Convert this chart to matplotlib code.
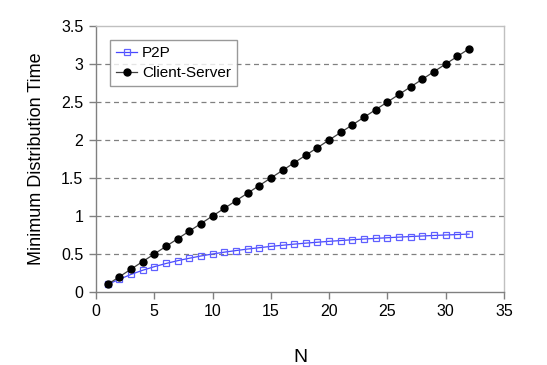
import matplotlib
matplotlib.use("Agg")
import matplotlib.pyplot as plt

plt.rcParams['font.family'] = ['Liberation Sans', 'DejaVu Sans']

N = list(range(1, 33))
p2p = [0.100, 0.167, 0.231, 0.286, 0.333, 0.375, 0.412, 0.444, 0.474, 0.500,
       0.524, 0.545, 0.565, 0.583, 0.600, 0.615, 0.630, 0.643, 0.655, 0.667,
       0.677, 0.688, 0.697, 0.706, 0.714, 0.722, 0.730, 0.737, 0.744, 0.750,
       0.756, 0.762]
client_server = [0.1, 0.2, 0.3, 0.4, 0.5, 0.6, 0.7, 0.8, 0.9, 1.0,
                 1.1, 1.2, 1.3, 1.4, 1.5, 1.6, 1.7, 1.8, 1.9, 2.0,
                 2.1, 2.2, 2.3, 2.4, 2.5, 2.6, 2.7, 2.8, 2.9, 3.0,
                 3.1, 3.2]
xticks = [0, 5, 10, 15, 20, 25, 30, 35]
yticks = [0, 0.5, 1, 1.5, 2, 2.5, 3, 3.5]
ytick_labels = ['0', '0.5', '1', '1.5', '2', '2.5', '3', '3.5']

fig = plt.figure(figsize=(5.47, 3.65), dpi=100)
ax = fig.add_axes([0.1755, 0.2, 0.7459, 0.7288])

for y in yticks[1:-1]:
    ax.axhline(y, color='#808080', lw=0.9, ls=(0, (4, 3)), zorder=0)

ax.plot(N, p2p, color='#4848ff', lw=0.9, marker='s', markersize=4.5,
        markerfacecolor='none', markeredgecolor='#6060ff', markeredgewidth=0.9,
        label='P2P')
ax.plot(N, client_server, color='#404040', lw=0.9, marker='o', markersize=5,
        markerfacecolor='black', markeredgecolor='black', label='Client-Server')

ax.set_xlim(0, 35)
ax.set_ylim(0, 3.5)
ax.set_xticks(xticks)
ax.set_yticks(yticks)
ax.set_yticklabels(ytick_labels)
ax.tick_params(direction='out', length=5, width=1, color='#808080', labelsize=11.5, pad=4)

for s in ['left', 'bottom']:
    ax.spines[s].set_color('#808080')
    ax.spines[s].set_linewidth(1.0)
for s in ['top', 'right']:
    ax.spines[s].set_color('#c0c0c0')
    ax.spines[s].set_linewidth(1.0)

ax.set_xlabel('N', fontsize=14)
ax.xaxis.set_label_coords(0.5, -65 / 266, transform=ax.transAxes)
ax.xaxis.label.set_va('center')
ax.set_ylabel('Minimum Distribution Time', fontsize=13)
ax.yaxis.set_label_coords(-(96 - 37) / 408, 0.5, transform=ax.transAxes)
ax.yaxis.label.set_va('center')

leg = ax.legend(loc='upper left', bbox_to_anchor=(14 / 408, 1 - 14 / 266), fontsize=11,
                frameon=True, fancybox=False, handlelength=1.4, borderpad=0.4,
                labelspacing=0.4, handletextpad=0.3, borderaxespad=0)
leg.get_frame().set_edgecolor('#808080')
leg.get_frame().set_linewidth(1.0)

fig.savefig('out.png', dpi=100)
